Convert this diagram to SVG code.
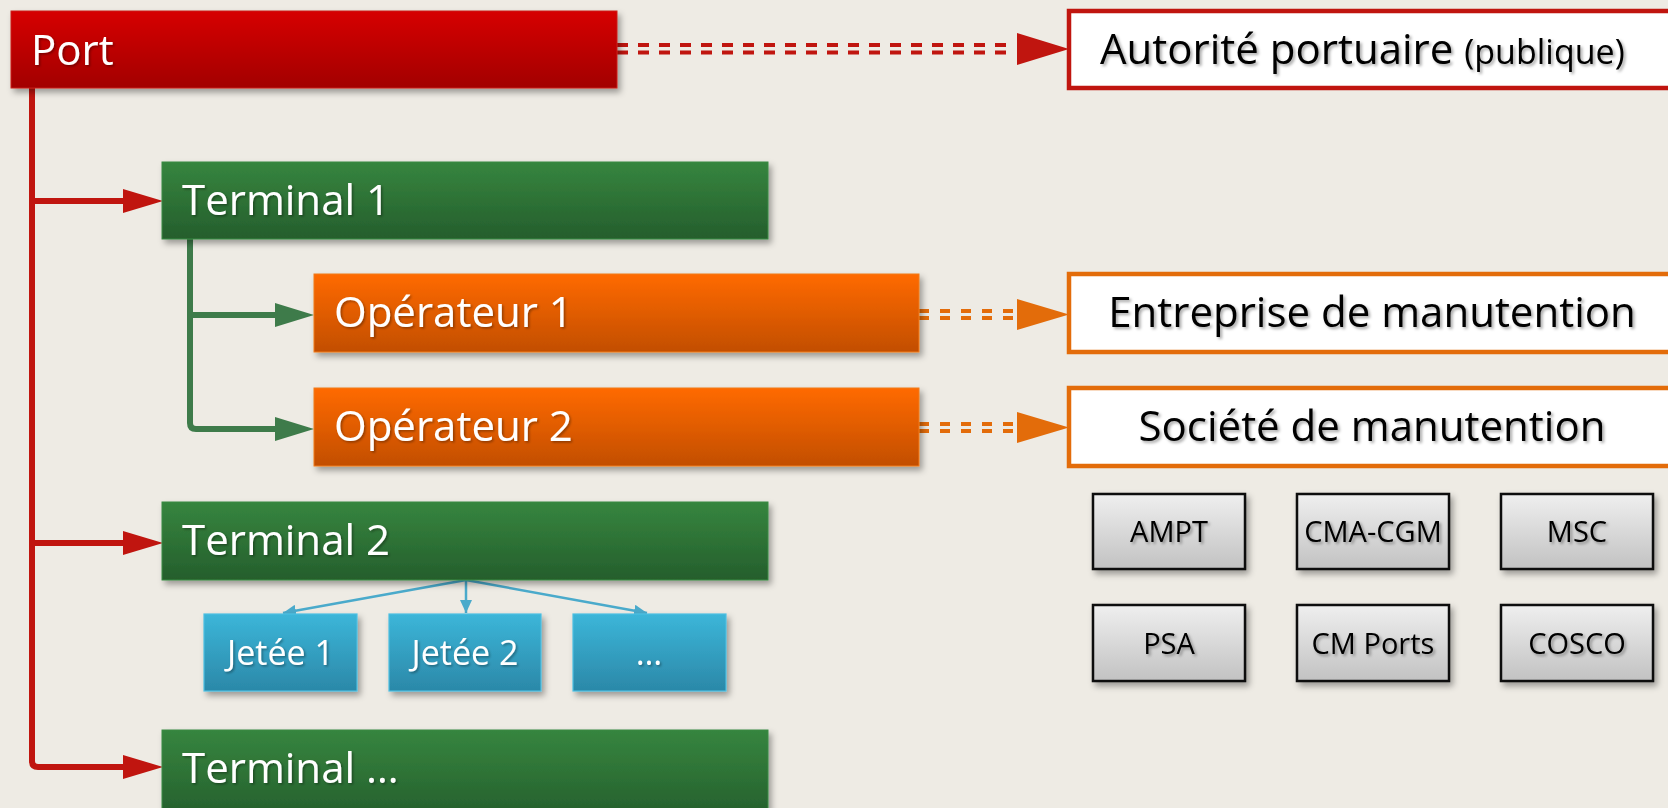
<svg xmlns="http://www.w3.org/2000/svg" width="1668" height="808" viewBox="0 0 1668 808">
  <style>
    .lbl { font-family: "Open Sans", "Noto Sans", "Liberation Sans", sans-serif; }
    .big { font-size: 42px; fill: #ffffff; filter: url(#tshW); }
    .blk { font-size: 42px; fill: #000000; filter: url(#tshB); }
    .jet { font-size: 34px; fill: #ffffff; filter: url(#tshW); text-anchor: middle; }
    .co { font-size: 29px; fill: #000000; filter: url(#tshB); text-anchor: middle; }
    .box { filter: url(#shadow); }
    .red { stroke: #c0150f; stroke-width: 6; fill: none; }
    .green { stroke: #3e7b4a; stroke-width: 6; fill: none; }
    .blue { stroke: #4aaacb; stroke-width: 2.5; fill: none; }
    .dred { stroke: #c0150f; stroke-width: 4; stroke-dasharray: 11 10; fill: none; }
    .dor { stroke: #e36c0a; stroke-width: 4; stroke-dasharray: 10 11; fill: none; }
  </style>
  <defs>
    <linearGradient id="gRed" x1="0" y1="0" x2="0" y2="1">
      <stop offset="0" stop-color="#d60000"/>
      <stop offset="1" stop-color="#a20000"/>
    </linearGradient>
    <linearGradient id="gGreen" x1="0" y1="0" x2="0" y2="1">
      <stop offset="0" stop-color="#36853f"/>
      <stop offset="1" stop-color="#255e2c"/>
    </linearGradient>
    <linearGradient id="gOrange" x1="0" y1="0" x2="0" y2="1">
      <stop offset="0" stop-color="#ff6a00"/>
      <stop offset="1" stop-color="#c24e00"/>
    </linearGradient>
    <linearGradient id="gBlue" x1="0" y1="0" x2="0" y2="1">
      <stop offset="0" stop-color="#3cb6d9"/>
      <stop offset="1" stop-color="#2b88a8"/>
    </linearGradient>
    <linearGradient id="gGray" x1="0" y1="0" x2="0" y2="1">
      <stop offset="0" stop-color="#efefef"/>
      <stop offset="1" stop-color="#c2c2c2"/>
    </linearGradient>
    <filter id="shadow" x="-10%" y="-20%" width="130%" height="160%">
      <feDropShadow dx="3" dy="4" stdDeviation="3" flood-color="#000" flood-opacity="0.35"/>
    </filter>
    <filter id="tshW" x="-10%" y="-20%" width="130%" height="160%">
      <feDropShadow dx="1.5" dy="1.5" stdDeviation="1" flood-color="#000" flood-opacity="0.35"/>
    </filter>
    <filter id="tshB" x="-10%" y="-20%" width="130%" height="160%">
      <feDropShadow dx="2" dy="2" stdDeviation="1.5" flood-color="#000" flood-opacity="0.35"/>
    </filter>
    <marker id="arrRed" markerUnits="userSpaceOnUse" markerWidth="41" markerHeight="24" refX="0" refY="12" orient="auto">
      <path d="M0,0 L40,12 L0,24 z" fill="#c0150f"/>
    </marker>
    <marker id="arrGreen" markerUnits="userSpaceOnUse" markerWidth="40" markerHeight="24" refX="0" refY="12" orient="auto">
      <path d="M0,0 L39,12 L0,24 z" fill="#3e7b4a"/>
    </marker>
    <marker id="arrBlue" markerUnits="userSpaceOnUse" markerWidth="14" markerHeight="12" refX="13" refY="6" orient="auto">
      <path d="M0,0 L13,6 L0,12 z" fill="#4aaacb"/>
    </marker>
  </defs>

  <rect x="0" y="0" width="1668" height="808" fill="#eeebe4"/>

  <g id="connectors">
    <path class="red" d="M32,86 V761 Q32,767 38,767 H123" marker-end="url(#arrRed)"/>
    <path class="red" d="M32,201 H123" marker-end="url(#arrRed)"/>
    <path class="red" d="M32,543 H123" marker-end="url(#arrRed)"/>
    <path class="green" d="M190,237 V423 Q190,429 196,429 H275" marker-end="url(#arrGreen)"/>
    <path class="green" d="M190,315 H275" marker-end="url(#arrGreen)"/>
    <path class="blue" d="M466,580 L283,613" marker-end="url(#arrBlue)"/>
    <path class="blue" d="M466,580 L466,613" marker-end="url(#arrBlue)"/>
    <path class="blue" d="M466,580 L647,613" marker-end="url(#arrBlue)"/>
    <line class="dred" x1="617" y1="45" x2="1008" y2="45"/>
    <line class="dred" x1="617" y1="52.5" x2="1008" y2="52.5"/>
    <polygon points="1017,33 1069,49 1017,65" fill="#c0150f"/>
    <line class="dor" x1="919" y1="311" x2="1015" y2="311"/>
    <line class="dor" x1="919" y1="318" x2="1015" y2="318"/>
    <polygon points="1017,299 1069,314.5 1017,330" fill="#e36c0a"/>
    <line class="dor" x1="919" y1="424" x2="1015" y2="424"/>
    <line class="dor" x1="919" y1="431" x2="1015" y2="431"/>
    <polygon points="1017,412 1069,427.5 1017,443" fill="#e36c0a"/>
  </g>

  <g id="port">
    <rect class="box" x="11" y="11" width="606" height="77" fill="url(#gRed)" stroke="#c9231c" stroke-width="1"/>
    <text class="lbl big" x="31" y="65">Port</text>
  </g>

  <g id="autorite">
    <rect x="1069" y="11" width="640" height="77" fill="#ffffff" stroke="#c0150f" stroke-width="4.5"/>
    <text class="lbl blk" x="1100" y="64">Autorité portuaire <tspan font-size="34px">(publique)</tspan></text>
  </g>

  <g id="terminal1">
    <rect class="box" x="162" y="162" width="606" height="77" fill="url(#gGreen)" stroke="#3a8a44" stroke-width="1"/>
    <text class="lbl big" x="182" y="215">Terminal 1</text>
  </g>

  <g id="operateur1">
    <rect class="box" x="314" y="274" width="605" height="78" fill="url(#gOrange)" stroke="#f07a1c" stroke-width="1"/>
    <text class="lbl big" x="334" y="327">Opérateur 1</text>
  </g>

  <g id="operateur2">
    <rect class="box" x="314" y="388" width="605" height="78" fill="url(#gOrange)" stroke="#f07a1c" stroke-width="1"/>
    <text class="lbl big" x="334" y="441">Opérateur 2</text>
  </g>

  <g id="entreprise">
    <rect x="1069" y="274" width="640" height="78" fill="#ffffff" stroke="#e36c0a" stroke-width="4.5"/>
    <text class="lbl blk" x="1372" y="327" text-anchor="middle">Entreprise de manutention</text>
  </g>

  <g id="societe">
    <rect x="1069" y="388" width="640" height="78" fill="#ffffff" stroke="#e36c0a" stroke-width="4.5"/>
    <text class="lbl blk" x="1372" y="441" text-anchor="middle">Société de manutention</text>
  </g>

  <g id="terminal2">
    <rect class="box" x="162" y="502" width="606" height="78" fill="url(#gGreen)" stroke="#3a8a44" stroke-width="1"/>
    <text class="lbl big" x="182" y="555">Terminal 2</text>
  </g>

  <g id="jetee1">
    <rect class="box" x="204" y="614" width="153" height="77" fill="url(#gBlue)" stroke="#4cbfe2" stroke-width="1.2"/>
    <text class="lbl jet" x="280.5" y="665">Jetée 1</text>
  </g>
  <g id="jetee2">
    <rect class="box" x="389" y="614" width="152" height="77" fill="url(#gBlue)" stroke="#4cbfe2" stroke-width="1.2"/>
    <text class="lbl jet" x="465" y="665">Jetée 2</text>
  </g>
  <g id="jetee3">
    <rect class="box" x="573" y="614" width="153" height="77" fill="url(#gBlue)" stroke="#4cbfe2" stroke-width="1.2"/>
    <text class="lbl jet" x="649" y="665">…</text>
  </g>

  <g id="terminal3">
    <rect class="box" x="162" y="730" width="606" height="90" fill="url(#gGreen)" stroke="#3a8a44" stroke-width="1"/>
    <text class="lbl big" x="182" y="783">Terminal …</text>
  </g>

  <g id="ampt">
    <rect class="box" x="1093" y="494" width="152" height="75" fill="url(#gGray)" stroke="#111" stroke-width="2.5"/>
    <text class="lbl co" x="1169" y="542">AMPT</text>
  </g>
  <g id="cmacgm">
    <rect class="box" x="1297" y="494" width="152" height="75" fill="url(#gGray)" stroke="#111" stroke-width="2.5"/>
    <text class="lbl co" x="1373" y="542">CMA-CGM</text>
  </g>
  <g id="msc">
    <rect class="box" x="1501" y="494" width="152" height="75" fill="url(#gGray)" stroke="#111" stroke-width="2.5"/>
    <text class="lbl co" x="1577" y="542">MSC</text>
  </g>
  <g id="psa">
    <rect class="box" x="1093" y="605" width="152" height="76" fill="url(#gGray)" stroke="#111" stroke-width="2.5"/>
    <text class="lbl co" x="1169" y="654">PSA</text>
  </g>
  <g id="cmports">
    <rect class="box" x="1297" y="605" width="152" height="76" fill="url(#gGray)" stroke="#111" stroke-width="2.5"/>
    <text class="lbl co" x="1373" y="654">CM Ports</text>
  </g>
  <g id="cosco">
    <rect class="box" x="1501" y="605" width="152" height="76" fill="url(#gGray)" stroke="#111" stroke-width="2.5"/>
    <text class="lbl co" x="1577" y="654">COSCO</text>
  </g>
</svg>
